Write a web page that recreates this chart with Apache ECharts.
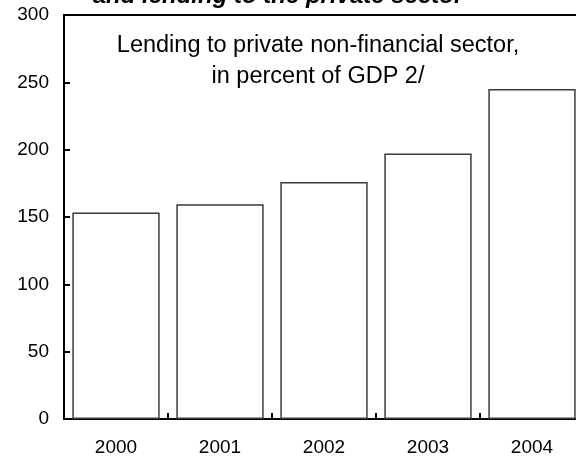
<!DOCTYPE html>
<html>
<head>
<meta charset="utf-8">
<script src="https://cdn.jsdelivr.net/npm/echarts@6/dist/echarts.min.js"></script>
<style>
  html, body { margin: 0; padding: 0; background: #fff; }
  #chart { width: 576px; height: 457px; }
</style>
</head>
<body>
<div id="chart"></div>
<script>
// Lending to the private non-financial sector, percent of GDP
const years = ['2000', '2001', '2002', '2003', '2004'];
const lendingPctGdp = [153.4, 159.4, 175.9, 197.2, 245.0];
const yTicks = [0, 50, 100, 150, 200, 250, 300];

const FONT = '"Liberation Sans", Arial, sans-serif';

const chart = echarts.init(document.getElementById('chart'), null, { renderer: 'canvas' });

chart.setOption({
  animation: false,
  backgroundColor: '#ffffff',
  grid: {
    left: 64, top: 15, width: 520, bottom: 38,
    outerBoundsMode: 'none',
    containLabel: false,
    show: true, borderColor: '#000', borderWidth: 2, backgroundColor: 'transparent'
  },
  xAxis: {
    type: 'category',
    data: years,
    boundaryGap: true,
    axisLine: { show: true, lineStyle: { color: '#000', width: 2 } },
    axisTick: { show: true, inside: true, length: 6, interval: 0, lineStyle: { color: '#000', width: 2 } },
    axisLabel: { color: '#000', fontSize: 19, fontFamily: FONT, margin: 19 },
    splitLine: { show: false }
  },
  yAxis: {
    type: 'value',
    min: yTicks[0],
    max: yTicks[yTicks.length - 1],
    interval: 50,
    axisLine: { show: true, lineStyle: { color: '#000', width: 2 } },
    axisTick: { show: true, inside: true, length: 6, lineStyle: { color: '#000', width: 2 } },
    axisLabel: { color: '#000', fontSize: 19, fontFamily: FONT, margin: 15 },
    splitLine: { show: false }
  },
  series: [{
    type: 'bar',
    data: lendingPctGdp,
    barCategoryGap: '16%',
    itemStyle: { color: '#ffffff', borderColor: '#3a3a3a', borderWidth: 1.5 }
  }],
  graphic: [
    {
      type: 'text', x: 278, y: 8, z: 100,
      style: {
        text: 'and lending to the private sector',
        textAlign: 'center', textVerticalAlign: 'bottom',
        font: 'italic bold 24px ' + FONT, fill: '#000'
      }
    },
    {
      type: 'text', x: 318, y: 46, z: 100,
      style: {
        text: 'Lending to private non-financial sector,',
        textAlign: 'center', textVerticalAlign: 'middle',
        font: '23.5px ' + FONT, fill: '#000'
      }
    },
    {
      type: 'text', x: 318, y: 77, z: 100,
      style: {
        text: 'in percent of GDP 2/',
        textAlign: 'center', textVerticalAlign: 'middle',
        font: '23.5px ' + FONT, fill: '#000'
      }
    }
  ]
});
</script>
</body>
</html>
